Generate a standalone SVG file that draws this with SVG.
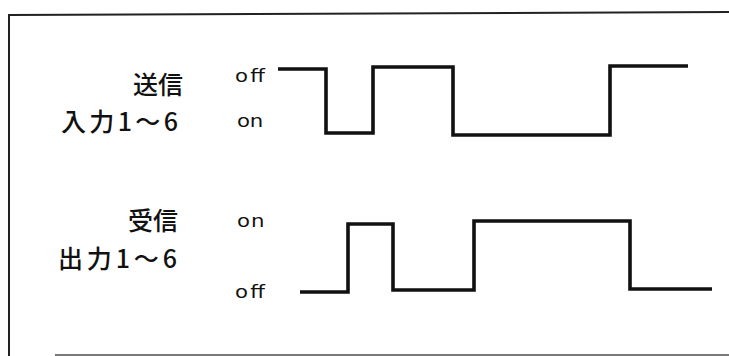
<svg xmlns="http://www.w3.org/2000/svg" width="729" height="356" viewBox="0 0 729 356">
<style>
.frame{fill:none;stroke:#222;stroke-width:2}
.wave{fill:none;stroke:#111;stroke-width:3.6;stroke-linejoin:miter;stroke-linecap:butt}
.jp{font-family:"Noto Sans CJK JP","Liberation Sans",sans-serif;font-size:25px;font-weight:500;fill:#111;text-anchor:end}
.lv{font-family:"DejaVu Sans","Liberation Sans",sans-serif;font-size:17px;fill:#111}
</style>
<rect width="729" height="356" fill="#fff"/>
<g id="frame">
<path class="frame" d="M729,12 L9,15 L9,356"/>
<path class="frame" d="M55,355 L729,355" stroke-opacity="0.6"/>
</g>
<g id="send">
<text class="jp" x="183" y="94">送信</text>
<text class="jp" x="178" y="131" textLength="117" lengthAdjust="spacing">入力1～6</text>
<text class="lv" transform="translate(235,82) scale(1.25,1)" textLength="24" lengthAdjust="spacing">off</text>
<text class="lv" transform="translate(237,127) scale(1.25,1)" textLength="21" lengthAdjust="spacing">on</text>
</g>
<g id="recv">
<text class="jp" x="178" y="230">受信</text>
<text class="jp" x="177" y="268" textLength="119" lengthAdjust="spacing">出力1～6</text>
<text class="lv" transform="translate(237,227) scale(1.25,1)" textLength="22" lengthAdjust="spacing">on</text>
<text class="lv" transform="translate(235,298) scale(1.25,1)" textLength="24" lengthAdjust="spacing">off</text>
</g>
<g id="connectors">
<path class="wave" d="M278,69 H326 V133 H373 V67 H453 V135 H610 V66 H688"/>
<path class="wave" d="M300,292 H348 V224 H393 V290 H474 V221 H630 V289 H712"/>
</g>
</svg>
